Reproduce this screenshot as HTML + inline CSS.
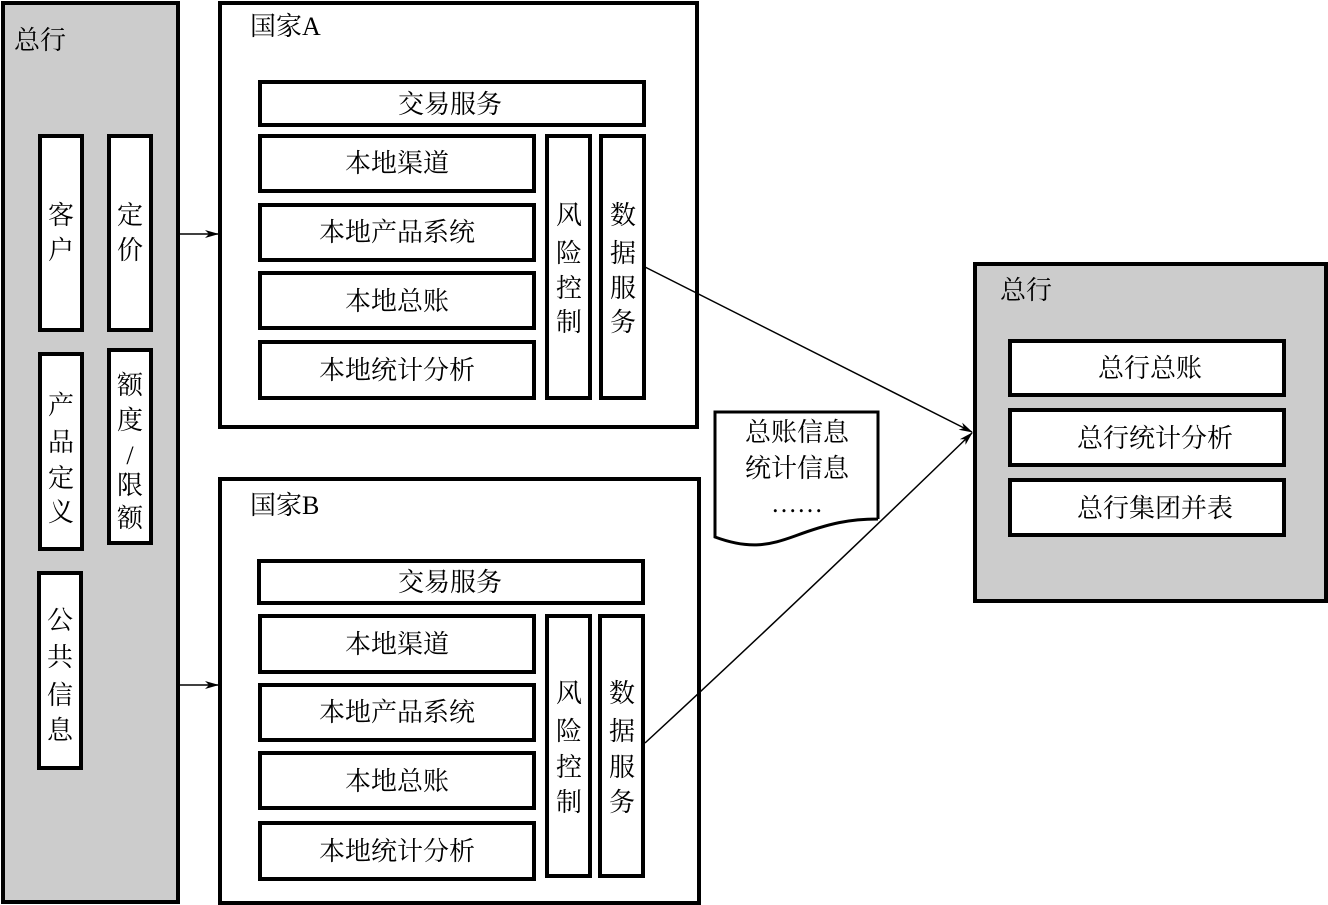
<!DOCTYPE html>
<html><head><meta charset="utf-8"><style>
html,body{margin:0;padding:0;background:#fff}
svg{display:block}
text{font-family:"Liberation Serif","Noto Serif CJK SC","Noto Sans CJK SC",serif;font-size:26px;fill:#000}
.c{text-anchor:middle}
</style></head><body>
<svg width="1328" height="905" viewBox="0 0 1328 905" xmlns="http://www.w3.org/2000/svg">
<defs><marker id="ar" markerWidth="14" markerHeight="8" refX="13" refY="4" orient="auto" markerUnits="userSpaceOnUse"><path d="M0,0 L14,4 L0,8 L4,4 Z" fill="#000"/></marker></defs>
<g stroke="#000" stroke-width="4">
<rect x="3" y="3" width="175" height="899" fill="#cccccc"/>
<rect x="40" y="136" width="42" height="194" fill="#fff"/>
<rect x="109" y="136" width="42" height="194" fill="#fff"/>
<rect x="40" y="354" width="42" height="195" fill="#fff"/>
<rect x="109" y="350" width="42" height="193" fill="#fff"/>
<rect x="39" y="573" width="42" height="195" fill="#fff"/>
<rect x="220" y="3" width="477" height="424" fill="#fff"/>
<rect x="260" y="82" width="384" height="43" fill="#fff"/>
<rect x="260" y="136" width="274" height="55" fill="#fff"/>
<rect x="260" y="205" width="274" height="55" fill="#fff"/>
<rect x="260" y="273" width="274" height="55" fill="#fff"/>
<rect x="260" y="342" width="274" height="56" fill="#fff"/>
<rect x="547" y="136" width="43" height="262" fill="#fff"/>
<rect x="601" y="136" width="43" height="262" fill="#fff"/>
<rect x="220" y="479" width="479" height="424" fill="#fff"/>
<rect x="259" y="561" width="384" height="42" fill="#fff"/>
<rect x="260" y="616" width="274" height="56" fill="#fff"/>
<rect x="260" y="685" width="274" height="55" fill="#fff"/>
<rect x="260" y="753" width="274" height="55" fill="#fff"/>
<rect x="260" y="823" width="274" height="56" fill="#fff"/>
<rect x="547" y="616" width="43" height="260" fill="#fff"/>
<rect x="600" y="616" width="43" height="260" fill="#fff"/>
<rect x="975" y="264" width="351" height="337" fill="#cccccc"/>
<rect x="1010" y="341" width="274" height="54" fill="#fff"/>
<rect x="1010" y="410" width="274" height="55" fill="#fff"/>
<rect x="1010" y="480" width="274" height="55" fill="#fff"/>
<path d="M878,519 L878,412 L715,412 L715,537 C750,550 770,545 795,536 C830,523 850,519 878,519" fill="#fff" stroke-width="3"/>
</g>
<g stroke="#000" stroke-width="1.5" fill="none">
<line x1="178" y1="234" x2="218" y2="234" marker-end="url(#ar)"/>
<line x1="178" y1="685" x2="218" y2="685" marker-end="url(#ar)"/>
<line x1="645" y1="267" x2="972" y2="432" marker-end="url(#ar)"/>
<path d="M645,743 Q800,600 972,433" marker-end="url(#ar)"/>
</g>
<text x="14" y="49">总行</text>
<text x="250" y="35">国家A</text>
<text x="250" y="514">国家B</text>
<text x="1000" y="299">总行</text>
<g class="c">
<text x="61" y="224">客</text><text x="61" y="259">户</text>
<text x="130" y="224">定</text><text x="130" y="259">价</text>
<text x="61" y="414">产</text><text x="61" y="451">品</text><text x="61" y="487">定</text><text x="61" y="521">义</text>
<text x="130" y="394">额</text><text x="130" y="429">度</text><text x="130" y="464">/</text><text x="130" y="494">限</text><text x="130" y="527">额</text>
<text x="60" y="629">公</text><text x="60" y="666">共</text><text x="60" y="704">信</text><text x="60" y="739">息</text>
<text x="569" y="224">风</text><text x="569" y="262">险</text><text x="569" y="297">控</text><text x="569" y="331">制</text>
<text x="623" y="224">数</text><text x="623" y="262">据</text><text x="623" y="297">服</text><text x="623" y="331">务</text>
<text x="569" y="702">风</text><text x="569" y="740">险</text><text x="569" y="776">控</text><text x="569" y="811">制</text>
<text x="622" y="702">数</text><text x="622" y="740">据</text><text x="622" y="776">服</text><text x="622" y="811">务</text>
<text x="450" y="113">交易服务</text>
<text x="397" y="172">本地渠道</text>
<text x="397" y="241">本地产品系统</text>
<text x="397" y="310">本地总账</text>
<text x="397" y="379">本地统计分析</text>
<text x="450" y="591">交易服务</text>
<text x="397" y="653">本地渠道</text>
<text x="397" y="721">本地产品系统</text>
<text x="397" y="790">本地总账</text>
<text x="397" y="860">本地统计分析</text>
<text x="1150" y="377">总行总账</text>
<text x="1155" y="447">总行统计分析</text>
<text x="1155" y="517">总行集团并表</text>
<text x="797" y="441">总账信息</text>
<text x="797" y="477">统计信息</text>
<text x="797" y="512">……</text>
</g>
</svg>
</body></html>
